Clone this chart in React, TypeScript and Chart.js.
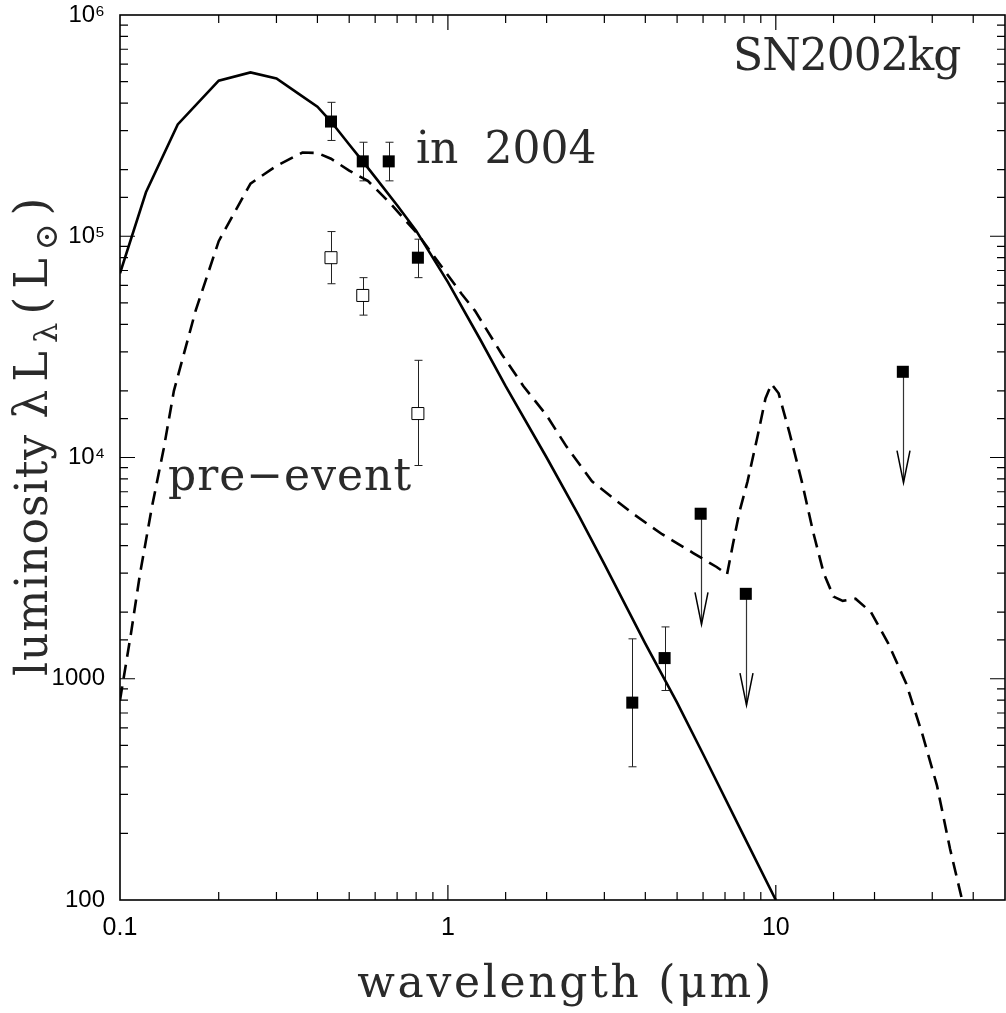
import React, { useEffect, useRef } from 'react';
import { Chart, registerables } from 'chart.js';

Chart.register(...registerables);

// ---- data ----
// 2004 blackbody-like fit (solid)
const solidX = [0.1, 0.12, 0.15, 0.2, 0.25, 0.3, 0.35, 0.4, 0.44, 0.5, 0.55, 0.6, 0.7, 0.8, 1.0, 1.25, 1.5, 2.0, 2.5, 3.0, 4.0, 5.0, 6.0, 8.0, 10.0];
const solidY = [6.8e4, 1.58e5, 3.2e5, 5.05e5, 5.5e5, 5.17e5, 4.41e5, 3.85e5, 3.3e5, 2.6e5, 2.18e5, 1.85e5, 1.38e5, 1.06e5, 6.2e4, 3.45e4, 2.1e4, 1.0e4, 5.5e3, 3.3e3, 1.44e3, 780, 457, 194, 100];

// pre-event model (dashed)
const dashX = [0.1, 0.108, 0.115, 0.125, 0.136, 0.146, 0.17, 0.2, 0.25, 0.3, 0.36, 0.4, 0.44, 0.5, 0.57, 0.67, 0.81, 1.1, 1.21, 1.46, 1.7, 2.0, 2.3, 2.75, 3.65, 4.5, 5.6, 6.6, 7.1, 7.4, 7.75, 8.2, 8.8, 9.3, 9.7, 10.2, 11.0, 12.0, 13.0, 14.0, 15.0, 16.0, 17.5, 19.5, 22, 25, 28, 31, 34, 37];
const dashY = [800, 1600, 2960, 5930, 1.1e4, 2.0e4, 4.6e4, 9.5e4, 1.73e5, 2.08e5, 2.39e5, 2.38e5, 2.24e5, 1.98e5, 1.78e5, 1.4e5, 1.02e5, 5.5e4, 4.6e4, 2.93e4, 2.1e4, 1.55e4, 1.12e4, 7.8e3, 5.6e3, 4.5e3, 3.7e3, 3.2e3, 2.96e3, 4.05e3, 5.7e3, 7.8e3, 1.25e4, 1.85e4, 2.15e4, 1.95e4, 1.3e4, 7.8e3, 4.6e3, 3.0e3, 2.35e3, 2.25e3, 2.3e3, 2.0e3, 1.45e3, 950, 560, 330, 170, 100];

// 2004 photometry (filled squares with error bars)
const obsX = [0.44, 0.55, 0.66, 0.81, 3.65, 4.58];
const obsY = [3.3e5, 2.18e5, 2.18e5, 8.0e4, 780, 1240];
const obsLow = [2.71e5, 1.78e5, 1.78e5, 6.5e4, 400, 885];
const obsHigh = [4.03e5, 2.66e5, 2.66e5, 9.7e4, 1515, 1715];

// 2004 upper limits (filled squares with arrows)
const limX = [5.9, 8.1, 24.4];
const limY = [5570, 2420, 2.44e4];
const limTip = [1760, 760, 7700];

// pre-event photometry (open squares)
const preX = [0.44, 0.55, 0.81];
const preY = [8.0e4, 5.4e4, 1.58e4];
const preLow = [6.1e4, 4.4e4, 9.2e3];
const preHigh = [1.05e5, 6.5e4, 2.75e4];

// tick labels
const xTickValues = [0.1, 1, 10];
const xTickLabels = ['0.1', '1', '10'];
const yTickValues = [100, 1000, 1e4, 1e5, 1e6];
const yTickLabels = ['100', '1000', '10⁴', '10⁵', '10⁶'];

const toPts = (xs: number[], ys: number[]) => xs.map((v, i) => ({ x: v, y: ys[i] }));
const isPow10 = (v: number) => Math.abs(Math.log10(v) - Math.round(Math.log10(v))) < 1e-6;
const findLabel = (v: number, vals: number[], labels: string[]) => {
  const i = vals.findIndex((t) => Math.abs(Math.log10(t) - Math.log10(v)) < 1e-6);
  return i >= 0 ? labels[i] : '';
};

const SERIF = '"DejaVu Serif", serif';

const zeroPad = (s: any) => {
  s.paddingLeft = 0;
  s.paddingRight = 0;
  s.paddingTop = 0;
  s.paddingBottom = 0;
};

const decorPlugin = {
  id: 'decor',
  beforeDatasetsDraw(chart: any) {
    const { ctx, scales } = chart;
    const x = scales.x, y = scales.y;
    ctx.save();
    ctx.strokeStyle = '#222';
    ctx.lineWidth = 1;
    const bars = (xs: number[], lo: number[], hi: number[]) => {
      xs.forEach((v, i) => {
        const px = Math.round(x.getPixelForValue(v)) + 0.5;
        const p1 = y.getPixelForValue(lo[i]);
        const p2 = y.getPixelForValue(hi[i]);
        ctx.beginPath();
        ctx.moveTo(px, p1); ctx.lineTo(px, p2);
        ctx.moveTo(px - 4, p1); ctx.lineTo(px + 4, p1);
        ctx.moveTo(px - 4, p2); ctx.lineTo(px + 4, p2);
        ctx.stroke();
      });
    };
    bars(obsX, obsLow, obsHigh);
    bars(preX, preLow, preHigh);
    // upper-limit arrows
    limX.forEach((v, i) => {
      const px = Math.round(x.getPixelForValue(v)) + 0.5;
      const p0 = y.getPixelForValue(limY[i]);
      const pt = y.getPixelForValue(limTip[i]);
      ctx.strokeStyle = '#333';
      ctx.lineWidth = 1.2;
      ctx.beginPath(); ctx.moveTo(px, p0); ctx.lineTo(px, pt); ctx.stroke();
      ctx.strokeStyle = '#000';
      ctx.lineWidth = 1.5;
      ctx.beginPath();
      ctx.moveTo(px - 6.5, pt - 32); ctx.lineTo(px, pt); ctx.lineTo(px + 6.5, pt - 32);
      ctx.stroke();
    });
    ctx.restore();
  },
  afterDraw(chart: any) {
    const { ctx, chartArea, scales } = chart;
    const x = scales.x, y = scales.y;
    const { left, right, top, bottom } = chartArea;
    ctx.save();
    // frame
    ctx.strokeStyle = '#000';
    ctx.lineWidth = 1.6;
    ctx.strokeRect(left, top, right - left, bottom - top);
    // inward ticks on all four sides
    ctx.lineWidth = 1.2;
    ctx.beginPath();
    x.ticks.forEach((t: any) => {
      const px = x.getPixelForValue(t.value);
      if (px <= left + 1 || px >= right - 1) return;
      const len = isPow10(t.value) ? 15 : 8;
      ctx.moveTo(px, bottom); ctx.lineTo(px, bottom - len);
      ctx.moveTo(px, top); ctx.lineTo(px, top + len);
    });
    y.ticks.forEach((t: any) => {
      const py = y.getPixelForValue(t.value);
      if (py <= top + 1 || py >= bottom - 1) return;
      const len = isPow10(t.value) ? 15 : 8;
      ctx.moveTo(left, py); ctx.lineTo(left + len, py);
      ctx.moveTo(right, py); ctx.lineTo(right - len, py);
    });
    ctx.stroke();

    // annotations
    ctx.fillStyle = '#2a2a2a';
    ctx.textBaseline = 'alphabetic';
    ctx.textAlign = 'left';
    ctx.font = `44px ${SERIF}`;
    (ctx as any).letterSpacing = '-1px';
    ctx.fillText('SN2002kg', 733, 70);
    (ctx as any).letterSpacing = '0px';
    (ctx as any).wordSpacing = '12px';
    ctx.fillText('in 2004', 416, 163);
    (ctx as any).wordSpacing = '0px';
    (ctx as any).letterSpacing = '1px';
    ctx.fillText('pre−event', 168, 490);

    // x title
    ctx.textAlign = 'center';
    (ctx as any).letterSpacing = '2.7px';
    ctx.fillText('wavelength (μm)', (left + right) / 2 + 3, 997);

    // y title (rotated, with subscripts)
    ctx.textAlign = 'left';
    ctx.translate(47, 676);
    ctx.rotate(-Math.PI / 2);
    const runs = [
      { t: 'luminosity ', s: 44, dy: 0, sp: 1 },
      { t: 'λL', s: 46, dy: 0, sp: 8 },
      { t: 'λ', s: 32, dy: 10, sp: 8 },
      { t: '(L', s: 46, dy: 0, sp: 8 },
      { t: '⊙', s: 32, dy: 10, sp: 8 },
      { t: ')', s: 46, dy: 0, sp: 8 },
    ];
    let cx = 0;
    runs.forEach((r) => {
      ctx.font = `${r.s}px ${SERIF}`;
      (ctx as any).letterSpacing = `${r.sp}px`;
      ctx.fillText(r.t, cx, r.dy);
      cx += ctx.measureText(r.t).width;
    });
    ctx.restore();
  },
};

export default function App() {
  const ref = useRef<HTMLCanvasElement>(null);
  useEffect(() => {
    document.body.style.margin = '0';
    const canvas = ref.current!;
    const chart = new Chart(canvas, {
      type: 'scatter',
      data: {
        datasets: [
          {
            type: 'line',
            data: toPts(solidX, solidY),
            borderColor: '#000',
            borderWidth: 2.6,
            pointRadius: 0,
            tension: 0,
            fill: false,
          } as any,
          {
            type: 'line',
            data: toPts(dashX, dashY),
            borderColor: '#000',
            borderWidth: 2.6,
            borderDash: [14, 8],
            pointRadius: 0,
            tension: 0,
            fill: false,
          } as any,
          {
            data: toPts(preX, preY),
            pointStyle: 'rect',
            pointRadius: 8.5,
            backgroundColor: '#fff',
            borderColor: '#000',
            borderWidth: 1,
          },
          {
            data: toPts(obsX, obsY),
            pointStyle: 'rect',
            pointRadius: 8.5,
            backgroundColor: '#000',
            borderColor: '#000',
            borderWidth: 0,
          },
          {
            data: toPts(limX, limY),
            pointStyle: 'rect',
            pointRadius: 8.5,
            backgroundColor: '#000',
            borderColor: '#000',
            borderWidth: 0,
          },
        ],
      },
      options: {
        responsive: false,
        animation: false,
        events: [],
        layout: { autoPadding: false, padding: { left: 0, right: 1, top: 15, bottom: 0 } },
        plugins: { legend: { display: false }, tooltip: { enabled: false } },
        scales: {
          x: {
            type: 'logarithmic',
            min: 0.1,
            max: 50,
            grid: { display: false, drawTicks: false },
            border: { display: false },
            ticks: {
              autoSkip: false,
              maxRotation: 0,
              padding: 13,
              color: '#000',
              font: { family: '"Liberation Sans", Arial, sans-serif', size: 25 },
              callback: (v: any) => findLabel(Number(v), xTickValues, xTickLabels),
            },
            afterFit: (s: any) => { s.height = 113; zeroPad(s); },
          },
          y: {
            type: 'logarithmic',
            min: 100,
            max: 1e6,
            grid: { display: false, drawTicks: false },
            border: { display: false },
            ticks: {
              autoSkip: false,
              padding: 15,
              color: '#000',
              font: { family: '"Liberation Sans", Arial, sans-serif', size: 24 },
              callback: (v: any) => findLabel(Number(v), yTickValues, yTickLabels),
            },
            afterFit: (s: any) => { s.width = 120; zeroPad(s); },
          },
        },
      } as any,
      plugins: [decorPlugin],
    });
    return () => chart.destroy();
  }, []);
  return (
    <div style={{ position: 'absolute', left: 0, top: 0, width: 1006, height: 1013, background: '#fff' }}>
      <canvas ref={ref} width={1006} height={1013} style={{ display: 'block', width: 1006, height: 1013 }} />
    </div>
  );
}
